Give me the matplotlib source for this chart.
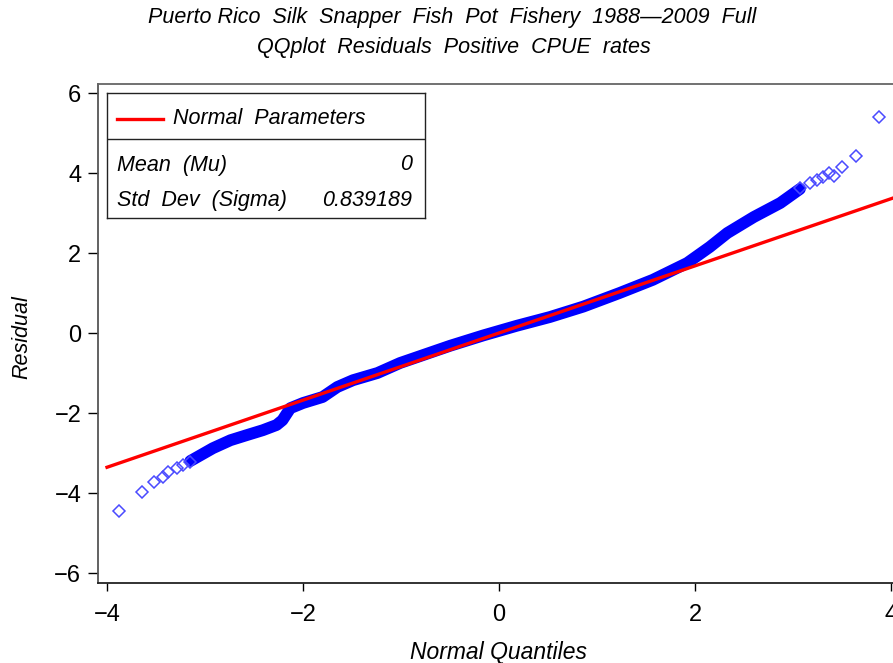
import matplotlib
matplotlib.use("Agg")
import matplotlib.pyplot as plt

plt.rcParams['font.family'] = ['Liberation Sans', 'DejaVu Sans']

# dense part of the QQ band (normal quantile, residual)
band_q = [-3.15, -2.92, -2.74, -2.57, -2.41, -2.27, -2.21, -2.13, -2.0, -1.8,
          -1.65, -1.49, -1.24, -1.01, -0.5, -0.16, 0.18, 0.52, 0.86, 1.23,
          1.57, 1.92, 2.15, 2.33, 2.6, 2.87, 3.07]
band_r = [-3.2, -2.88, -2.68, -2.55, -2.43, -2.3, -2.18, -1.88, -1.75, -1.6,
          -1.35, -1.18, -1.0, -0.75, -0.32, -0.06, 0.18, 0.4, 0.66, 1.0,
          1.33, 1.75, 2.15, 2.5, 2.9, 3.25, 3.6]

# sparse tail points
low_q = [-3.88, -3.64, -3.52, -3.43, -3.38, -3.29, -3.22, -3.15]
low_r = [-4.45, -3.98, -3.72, -3.6, -3.48, -3.38, -3.3, -3.23]
high_q = [3.07, 3.17, 3.24, 3.31, 3.37, 3.42, 3.5, 3.64, 3.88]
high_r = [3.63, 3.75, 3.83, 3.9, 4.0, 3.93, 4.15, 4.43, 5.4]

mu = 0
sigma = 0.839189
line_q = [-4, 4.1]

W, H = 893, 663
fig = plt.figure(figsize=(W / 100, H / 100), dpi=100)
fig.patch.set_facecolor('white')

# main axes runs past the right edge of the figure like the original
ax = fig.add_axes([98 / W, 1 - 583 / H, (902 - 98) / W, (583 - 84) / H])
ax.set_xlim(-4.092, 4.112)
ax.set_ylim(-6.25, 6.225)

ax.plot(band_q, band_r, color='#0000ff', lw=8.5, solid_capstyle='round',
        solid_joinstyle='round', zorder=2)
ax.plot(low_q, low_r, 'D', ms=6.3, mfc='none', mec='#4a4aff', mew=1.1, zorder=2)
ax.plot(high_q, high_r, 'D', ms=6.3, mfc='none', mec='#4a4aff', mew=1.1, zorder=2)
ax.plot(line_q, [mu + sigma * q for q in line_q], color='red', lw=2.4, zorder=3)

ax.set_xticks([-4, -2, 0, 2, 4])
ax.set_xticklabels(['\u22124', '\u22122', '0', '2', '4'])
ax.set_yticks([-6, -4, -2, 0, 2, 4, 6])
ax.set_yticklabels(['\u22126', '\u22124', '\u22122', '0', '2', '4', '6'])
ax.tick_params(axis='x', direction='out', length=6, width=1, pad=9, labelsize=17)
ax.tick_params(axis='y', direction='out', length=7, width=1, pad=5, labelsize=17)
for s in ['top', 'left', 'bottom']:
    ax.spines[s].set_linewidth(1.3)
ax.spines['top'].set_color('#666666')
ax.spines['left'].set_color('#555555')
ax.spines['bottom'].set_color('#222222')

fig.text(498 / W, 1 - 652 / H, 'Normal Quantiles', ha='center', va='center',
         fontsize=16.5, style='italic')
fig.text(22 / W, 1 - 337 / H, 'Residual', ha='center', va='center',
         fontsize=15.5, style='italic', rotation=90)

fig.text(452 / W, 1 - 18 / H,
         'Puerto Rico  Silk  Snapper  Fish  Pot  Fishery  1988\u20142009  Full',
         ha='center', va='center', fontsize=15.5, style='italic')
fig.text(454 / W, 1 - 48 / H, 'QQplot  Residuals  Positive  CPUE  rates',
         ha='center', va='center', fontsize=15.5, style='italic')

# parameter box, drawn in pixel units
lg = fig.add_axes([107 / W, 1 - 218 / H, (425 - 107) / W, (218 - 93) / H])
lg.set_xlim(0, 318)
lg.set_ylim(125, 0)
lg.set_xticks([])
lg.set_yticks([])
for s in lg.spines.values():
    s.set_linewidth(1)
    s.set_color('#222222')
lg.axhline(46, color='#222222', lw=1)
lg.plot([10, 56], [26, 26], color='red', lw=2.4)
lg.text(66, 26, 'Normal  Parameters', ha='left', va='center', fontsize=15.5,
        style='italic')
lg.text(10, 72, 'Mean  (Mu)', ha='left', va='center', fontsize=15.5,
        style='italic')
lg.text(305, 72, '%g' % mu, ha='right', va='center', fontsize=15.5,
        style='italic')
lg.text(10, 108, 'Std  Dev  (Sigma)', ha='left', va='center', fontsize=15.5,
        style='italic')
lg.text(305, 108, '%.6f' % sigma, ha='right', va='center', fontsize=15.5,
        style='italic')

fig.savefig('out.png', dpi=100)
